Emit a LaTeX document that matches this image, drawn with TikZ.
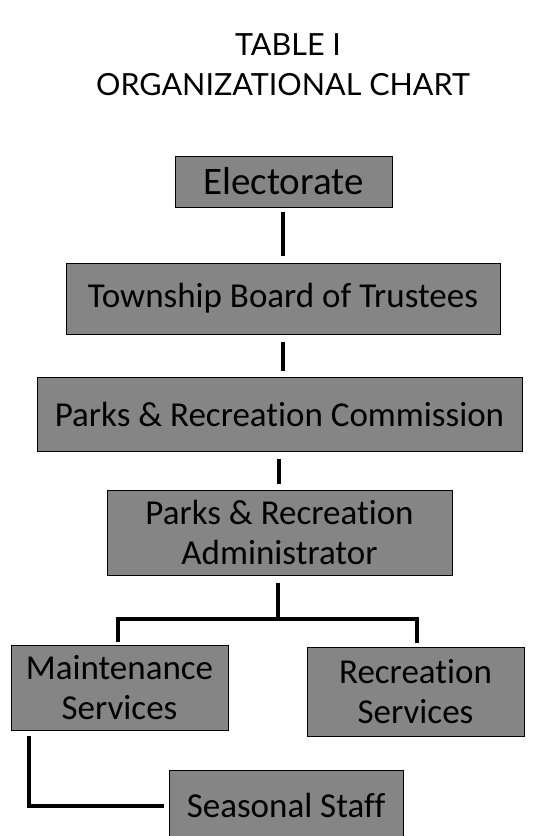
\documentclass[tikz,border=0pt]{standalone}
\usepackage{fontspec}
\setmainfont{Carlito}[Ligatures={NoCommon}]
\newfontfamily\titlefont{Lato}
\definecolor{boxgray}{HTML}{858585}
\tikzset{
  orgbox/.style={draw=black, line width=1pt, fill=boxgray, inner sep=0pt, align=center,
    font=\fontsize{35}{40}\selectfont, text=black},
  link/.style={line width=4.5pt, draw=black},
  titletext/.style={font=\titlefont\fontsize{30.5}{34}\selectfont, text=black}
}
\begin{document}
\begin{tikzpicture}[x=1pt,y=-1pt]
\useasboundingbox (0,0) rectangle (546,836);
\node[titletext] (t1) at (288,45) {TABLE I};
\node[titletext] (t2) at (283,85) {ORGANIZATIONAL CHART};

\node[orgbox, minimum width=217pt, minimum height=51pt, font=\fontsize{39}{44}\selectfont] (el) at (283.5,181.5) {Electorate};
\node[orgbox, minimum width=434pt, minimum height=71pt] (tb) at (283,298.5) {Township Board of Trustees};
\node[orgbox, minimum width=485pt, minimum height=74pt] (pc) at (279.5,414) {Parks \& Recreation Commission};
\node[orgbox, minimum width=345pt, minimum height=85pt] (pa) at (279.5,532.5) {Parks \& Recreation\\Administrator};
\node[orgbox, minimum width=217pt, minimum height=85pt] (ms) at (119.5,687.5) {Maintenance\\Services};
\node[orgbox, minimum width=217pt, minimum height=89pt] (rs) at (415.5,691.5) {Recreation\\Services};
\node[orgbox, minimum width=234pt, minimum height=70pt] (ss) at (286,805) {Seasonal Staff};

\coordinate (br) at (278,619);
\draw[link] ([yshift=-4pt]el.south -| 283,0) -- ([yshift=7pt]tb.north -| 283,0);
\draw[link] ([yshift=-7pt]tb.south -| 283,0) -- ([yshift=6pt]pc.north -| 283,0);
\draw[link] ([yshift=-7pt]pc.south -| 279,0) -- ([yshift=6pt]pa.north -| 279,0);
\draw[link] ([yshift=-7pt]pa.south -| 278,0) -- (br);
\draw[link, line cap=rect] (br) -| ([yshift=5pt]ms.north -| 118,0);
\draw[link, line cap=rect] (br) -| ([yshift=6pt]rs.north -| 417,0);
\draw[link] ([yshift=-5pt]ms.south -| 29,0) |- ([xshift=-5pt]ss.west |- 0,806);
\end{tikzpicture}
\end{document}
